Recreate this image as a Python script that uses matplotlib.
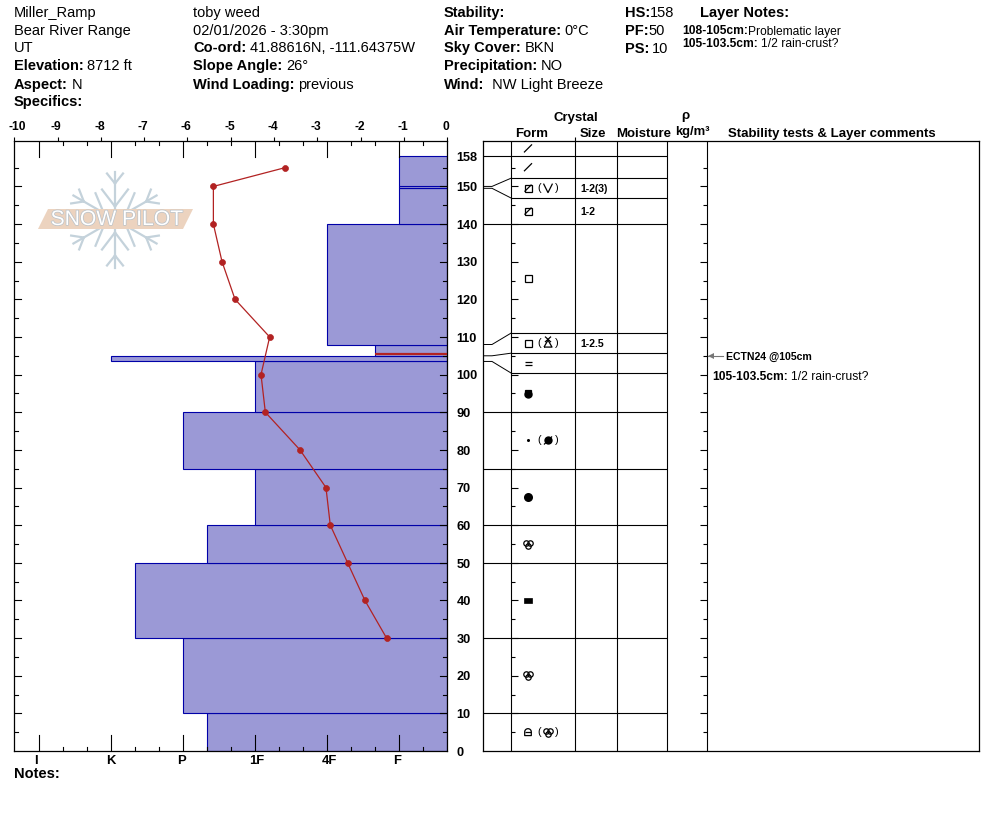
import numpy as np
import matplotlib
matplotlib.use("Agg")
import matplotlib.pyplot as plt
import matplotlib.patheffects as pe
from matplotlib.patches import Polygon, Rectangle

plt.rcParams["font.family"] = ["Liberation Sans", "DejaVu Sans"]

W, H = 994, 840
PX_PER_CM = 3.764
BODY = 14.67
Y0 = 751.0
Y1 = 140.5

# layers, bottom to top
layer_bottom = [0, 10, 30, 50, 60, 75, 90, 103.5, 105, 108, 140, 149.5, 150]
layer_top = [10, 30, 50, 60, 75, 90, 103.5, 105, 108, 140, 149.5, 150, 158]
layer_hardness = [10, 11, 13, 10, 8, 11, 8, 14, 3, 5, 2, 2, 2]
critical_height = 105.4
critical_hardness = 3

# temperature profile
temp_height = [155, 150, 140, 130, 120, 110, 100, 90, 80, 70, 60, 50, 40, 30]
temp_value = [-3.74, -5.4, -5.4, -5.2, -4.9, -4.1, -4.3, -4.2, -3.4, -2.8, -2.7, -2.3, -1.9, -1.4]

temp_ticks = list(range(-10, 1))
hard_ticks = [17, 14, 11, 8, 5, 2]
hard_labels = ["I", "K", "P", "1F", "4F", "F"]
height_ticks = [0, 10, 20, 30, 40, 50, 60, 70, 80, 90, 100, 110, 120, 130, 140, 150, 158]

# table rows (spread out so thin layers stay readable)
row_bounds = [0, 10, 30, 50, 60, 75, 90, 100.4, 105.7, 111.05, 140, 146.9, 152.2, 158, 162.2]
row_primary = ["lock", "round", "box", "round", "disc", "dot", "half", "eq", "sq", "sq", "facet", "facet", "slash", "slash"]
row_secondary = ["round", None, None, None, None, "disc2", None, None, "hoar", None, None, "vee", None, None]
row_size = ["", "", "", "", "", "", "", "", "1-2.5", "", "1-2", "1-2(3)", "", ""]
connect_real = [103.5, 105, 108, 149.5, 150]
connect_row = [100.4, 105.7, 111.05, 146.9, 152.2]

table_cols = [483.2, 511.2, 575.2, 617.2, 667.2, 707.2, 979.2]

fig = plt.figure(figsize=(W / 100, H / 100), dpi=100, facecolor="white")


def axes_px(x0, y0, x1, y1):
    return fig.add_axes([x0 / W, 1 - y1 / H, (x1 - x0) / W, (y1 - y0) / H])


def txt(x, y, s, size=BODY, bold=False, ha="left", color="black"):
    return fig.text(x / W, 1 - y / H, s, fontsize=size * 0.72, ha=ha, va="center",
                    fontweight="bold" if bold else "normal", color=color)


def mixed(x, y, parts, size=BODY, gap=0.25):
    # (string, bold) pieces set one after the other
    rend = fig.canvas.get_renderer()
    for s, b in parts:
        t = txt(x, y, s, size, b)
        x += t.get_window_extent(rend).width + size * gap


top_h = 162.2
ax = axes_px(14.2, Y1, 447.2, Y0)
ax.set_xlim(18.04, 0)
ax.set_ylim(0, top_h)
ax.barh(layer_bottom, layer_hardness, height=np.array(layer_top) - np.array(layer_bottom),
        align="edge", color="#9b99d6", edgecolor="#0000a8", linewidth=0.8, zorder=2)
ax.plot([0, critical_hardness], [critical_height] * 2, color="#b22222", lw=1.6, zorder=3,
        solid_capstyle="butt")
for s in ["left", "right", "top", "bottom"]:
    ax.spines[s].set_linewidth(0.9)
ax.set_xticks([])
ax.set_yticks([])

# ticks drawn by hand, they point inward on all sides
for h in range(5, 160, 5):
    ln = 7 if h % 10 == 0 else 4
    ax.plot([18.04, 18.04 - ln / 24], [h, h], color="black", lw=0.8, zorder=4)
    ax.plot([0, ln / 24], [h, h], color="black", lw=0.8, zorder=4)
for v in range(1, 18):
    ln = 16.5 if v in hard_ticks else 4.5
    ax.plot([v, v], [0, ln / PX_PER_CM], color="black", lw=0.8, zorder=4)
    ax.plot([v, v], [top_h, top_h - ln / PX_PER_CM], color="black", lw=0.8, zorder=4)
hard_shift = [-3.5, -0.5, -1.5, 1.5, 1.5, -2.5]
for v, lab, dx in zip(hard_ticks, hard_labels, hard_shift):
    txt(447.5 - v * 24 + dx, 760.5, lab, 13, True, "center")

# temperature on its own x scale
axt = ax.twiny()
axt.set_xlim(-10, 0)
axt.plot(temp_value, temp_height, color="#b22222", lw=0.9, marker="o", ms=4.3, mew=0.5, zorder=6, clip_on=False)
axt.set_xticks(temp_ticks)
axt.set_xticklabels([])
axt.tick_params(axis="x", direction="out", length=3, width=0.8)
for s in axt.spines.values():
    s.set_visible(False)
axt.patch.set_visible(False)
for t in temp_ticks:
    xp = 14.5 + (t + 10) * 43.3
    txt(xp + (2.5 if t == -10 else -1.5), 127.5, str(t), 12, True, "center")

# height labels between the chart and the table
for h in height_ticks:
    txt(456.5, 752.7 - h * PX_PER_CM, str(h), 12.8, True)

# table
axr = axes_px(table_cols[0], Y1, table_cols[-1], Y0)
axr.set_xlim(table_cols[0], table_cols[-1])
axr.set_ylim(0, top_h)
axr.set_xticks([])
axr.set_yticks([])
for s in axr.spines.values():
    s.set_linewidth(0.9)
lc = {"color": "black", "lw": 0.8, "solid_capstyle": "butt"}
for xc in table_cols[1:-1]:
    axr.plot([xc, xc], [0, top_h], **lc)
for b in row_bounds[1:-1]:
    x0 = table_cols[1] if b in connect_row else table_cols[0]
    axr.plot([x0, table_cols[4]], [b, b], **lc)
for r, t in zip(connect_real, connect_row):
    axr.plot([table_cols[0], 492, table_cols[1]], [r, r, t], color="black", lw=0.7)
for h in range(5, 160, 5):
    ln = 7 if h % 10 == 0 else 4
    axr.plot([table_cols[1], table_cols[1] + ln], [h, h], **lc)
    axr.plot([table_cols[5], table_cols[5] - ln], [h, h], **lc)
axr.plot([table_cols[2]] * 2, [top_h, top_h + 0.9], clip_on=False, **lc)


def sy(v):
    return v / PX_PER_CM


def symbol(kind, cx, cy):
    k = dict(color="black", lw=0.9, solid_capstyle="butt")
    if kind == "slash":
        axr.plot([cx - 4, cx + 4], [cy - sy(4), cy + sy(4)], **k)
    elif kind == "box":
        axr.add_patch(Rectangle((cx - 4, cy - sy(2.5)), 8, sy(5), fc="black", ec="black", lw=0.5, zorder=5))
    elif kind in ("sq", "facet"):
        axr.add_patch(Rectangle((cx - 3.5, cy - sy(3.5)), 7, sy(7), fc="white", ec="black", lw=0.9, zorder=5))
        if kind == "facet":
            axr.plot([cx - 3.5, cx + 3.5], [cy - sy(3.5), cy + sy(3.5)], zorder=6, **k)
    elif kind == "eq":
        axr.plot([cx - 3.5, cx + 3.5], [cy + sy(1.5)] * 2, **k)
        axr.plot([cx - 3.5, cx + 3.5], [cy - sy(1.5)] * 2, **k)
    elif kind == "half":
        axr.add_patch(Rectangle((cx - 3, cy - sy(3)), 6, sy(6), fc="white", ec="black", lw=0.9, zorder=5))
        axr.plot(cx, cy - sy(1.5), "o", color="black", ms=5, zorder=6)
    elif kind == "dot":
        axr.plot(cx, cy, "o", color="black", ms=2.2, mew=0)
    elif kind == "disc":
        axr.plot(cx, cy, "o", color="black", ms=6.5, mew=0)
    elif kind == "disc2":
        axr.plot(cx, cy, "o", color="black", ms=6, mew=0)
        axr.plot([cx - 4, cx + 4], [cy - sy(4), cy + sy(4)], **k)
    elif kind == "round":
        for dx, dy in [(-2, 1.4), (2, 1.4), (0, -1.6)]:
            axr.plot(cx + dx, cy + sy(dy), "o", mfc="none", mec="black", mew=0.9, ms=3.9, zorder=5)
    elif kind == "lock":
        t = np.linspace(0, np.pi, 14)
        xs = np.r_[cx + 3.3 * np.cos(t), cx - 3.3, cx + 3.3, cx + 3.3]
        ys = np.r_[cy + sy(0.3) + sy(3.2) * np.sin(t), cy - sy(3.4), cy - sy(3.4), cy + sy(0.3)]
        axr.plot(xs, ys, **k)
        axr.plot([cx - 3.3, cx + 3.3], [cy + sy(0.3)] * 2, **k)
    elif kind == "vee":
        axr.plot([cx - 4.5, cx, cx + 4.5], [cy + sy(4.5), cy - sy(4.5), cy + sy(4.5)], **k)
    elif kind == "hoar":
        axr.plot([cx - 4, cx, cx + 4, cx - 4], [cy - sy(4), cy + sy(3), cy - sy(4), cy - sy(4)], **k)
        axr.plot([cx - 3, cx + 3], [cy + sy(6.5), cy + sy(1)], **k)
        axr.plot([cx + 3, cx - 3], [cy + sy(6.5), cy + sy(1)], **k)


for i in range(len(row_primary)):
    mid = (row_bounds[i] + row_bounds[i + 1]) / 2
    symbol(row_primary[i], 528, mid)
    ypx = Y0 - mid * PX_PER_CM
    if row_secondary[i]:
        symbol(row_secondary[i], 548, mid)
        txt(539.5, ypx, "(", 11, False, "center")
        txt(557, ypx, ")", 11, False, "center")
    if row_size[i]:
        txt(580, ypx + 1, row_size[i], 10.5, True)

# logo sits on a transparent overlay in pixel coordinates
ov = axes_px(0, 0, W, H)
ov.set_xlim(0, W)
ov.set_ylim(H, 0)
ov.axis("off")
fx, fy, fr = 115, 219.5, 48
for ang in np.deg2rad([90, 30, -30, -90, 210, 150]):
    d = np.array([np.cos(ang), -np.sin(ang)])
    n = np.array([-d[1], d[0]])
    c = np.array([fx, fy])
    ov.plot(*zip(c + d * 10, c + d * fr), color="#c4d2db", lw=1.6)
    for r0, r1, off in [(36, 46, 8), (13, 30, 13)]:
        for sgn in (1, -1):
            ov.plot(*zip(c + d * r0, c + d * r1 + sgn * n * off), color="#c4d2db", lw=1.6)
ov.add_patch(Polygon([(38, 229), (48, 209), (193, 209), (183, 229)], closed=True, fc="#ecd3bf", ec="none", zorder=3))
logo = ov.text(117, 219.5, "SNOW PILOT", fontsize=15.2, color="white", ha="center", va="center", zorder=4)
logo.set_path_effects([pe.withStroke(linewidth=1, foreground="#b9c2c9")])

# header block
for y, s in [(13, "Miller_Ramp"), (31, "Bear River Range"), (48, "UT")]:
    txt(14, y, s)
mixed(14, 66, [("Elevation:", True), ("8712 ft", False)])
mixed(14, 85, [("Aspect:", True), ("N", False)])
txt(14, 102, "Specifics:", BODY, True)
txt(193, 13, "toby weed")
txt(193, 31, "02/01/2026 - 3:30pm")
mixed(193, 48, [("Co-ord:", True), ("41.88616N, -111.64375W", False)])
mixed(193, 66, [("Slope Angle:", True), ("26°", False)])
mixed(193, 85, [("Wind Loading:", True), ("previous", False)])
txt(444, 13, "Stability:", BODY, True)
mixed(444, 31, [("Air Temperature:", True), ("0°C", False)])
mixed(444, 48, [("Sky Cover:", True), ("BKN", False)])
mixed(444, 66, [("Precipitation:", True), ("NO", False)])
mixed(444, 85, [("Wind:", True), (" NW Light Breeze", False)])
mixed(625, 13, [("HS:", True), ("158", False)], gap=0)
mixed(625, 31, [("PF:", True), ("50", False)], gap=0)
mixed(625, 49, [("PS:", True), ("10", False)], gap=0.15)
txt(700, 13, "Layer Notes:", BODY, True)
mixed(682, 31.5, [("108-105cm:", True), ("Problematic layer", False)], 12, gap=0.05)
mixed(682, 44, [("105-103.5cm:", True), ("1/2 rain-crust?", False)], 12, gap=0.3)

# column headers
txt(576, 118.5, "Crystal", 13.3, True, "center")
txt(532, 134, "Form", 13.3, True, "center")
txt(593, 134, "Size", 13.3, True, "center")
txt(644, 134, "Moisture", 13.3, True, "center")
txt(685, 116, "ρ", 13.3, True, "center")
txt(692, 132, "kg/m³", 13, True, "center")
txt(832, 134, "Stability tests & Layer comments", 13.3, True, "center")

# comments
fig.add_artist(plt.Line2D([708 / W, 723 / W], [1 - 356 / H] * 2, color="#777777", lw=0.8))
fig.add_artist(plt.Line2D([711 / W], [1 - 356 / H], color="#777777", marker="<", ms=4, mew=0))
txt(726, 357, "ECTN24 @105cm", 10.5, True)
mixed(712, 377, [("105-103.5cm:", True), ("1/2 rain-crust?", False)], 12)
txt(14, 774, "Notes:", BODY, True)

fig.savefig("out.png", dpi=100)
